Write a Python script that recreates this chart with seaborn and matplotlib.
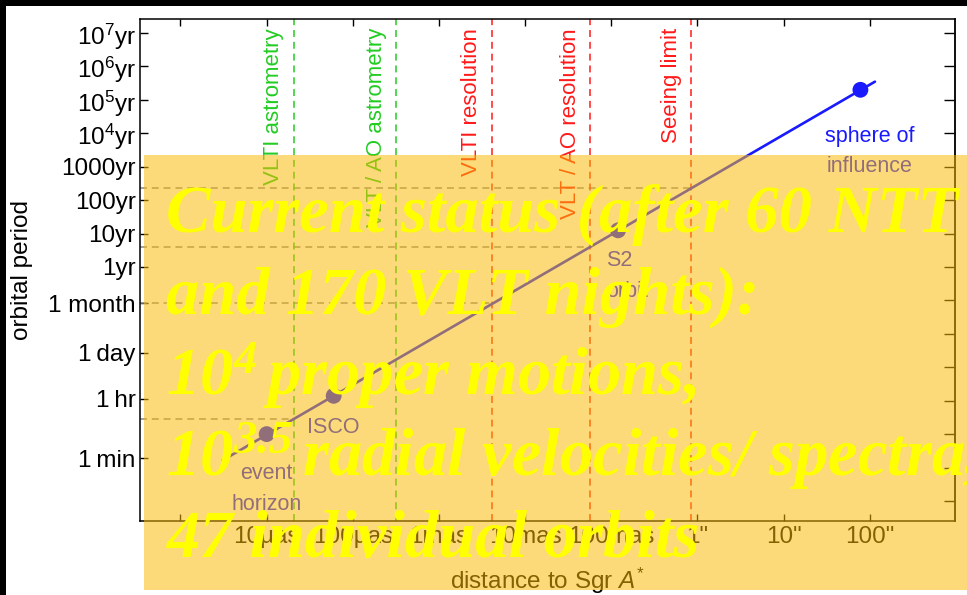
import matplotlib
matplotlib.use("Agg")
import matplotlib.pyplot as plt
from matplotlib.patches import Rectangle
from matplotlib.ticker import FixedLocator, NullLocator
import seaborn as sns

# Orbital period vs. distance from Sgr A* (distance in arcsec, period in years)
orbit_dist = [3.1e-6, 115.0]
orbit_period = [1.66e-6, 3.5e5]

# Marked radii on the orbit relation
marker_names = ["event\nhorizon", "ISCO", "S2\norbit", "sphere of\ninfluence"]
marker_dist = [1.0e-5, 6.0e-5, 0.12, 78.0]
marker_period = [1.0e-5, 1.4e-4, 12.5, 2.0e5]

# Instrumental limits (angular scale in arcsec)
limit_names = ["VLTI astrometry", "VLT / AO astrometry", "VLTI resolution",
               "VLT / AO resolution", "Seeing limit"]
limit_dist = [2.06e-5, 3.2e-4, 4.1e-3, 0.057, 0.85]
limit_kind = ["astrometry", "astrometry", "resolution", "resolution", "resolution"]

# Periods where the limits meet the orbit relation
guide_dist = [2.06e-5, 4.1e-3, 0.057, 0.85]
guide_period = [2.8e-5, 0.083, 4.0, 234.0]

x_ticks = [1e-6, 1e-5, 1e-4, 1e-3, 1e-2, 1e-1, 1.0, 10.0, 100.0]
x_labels = ["", "10µas", "100µas", "1mas", "10mas", "100mas", '1"', '10"', '100"']

y_ticks = [1e7, 1e6, 1e5, 1e4, 1e3, 100.0, 10.0, 1.0,
           1 / 12, 1 / 365.25, 1 / 8766.0, 1 / 525960.0]
y_labels = [r"$\mathregular{10^{7}}$yr", r"$\mathregular{10^{6}}$yr",
            r"$\mathregular{10^{5}}$yr", r"$\mathregular{10^{4}}$yr",
            "1000yr", "100yr", "10yr", "1yr", "1 month",
            "1\u2009day", "1\u2009hr", "1\u2009min"]
y_right_ticks = [10.0 ** k for k in range(-7, 8)]

status_lines = [
    "Current status (after 60 NTT",
    "and 170 VLT nights):",
    r"$\mathbf{10^{4}}\,$proper motions,",
    r"$\mathbf{10^{3.5}}\,$radial velocities/ spectra,",
    "47 individual orbits",
]

BLUE = "#1a1aff"
GREEN = "#22cc22"
RED = "#ff1a1a"
GUIDE = "#8a8a8a"
kind_color = {"astrometry": GREEN, "resolution": RED}

sns.set_theme(style="ticks")
plt.rcParams["font.family"] = ["Liberation Sans", "DejaVu Sans"]
plt.rcParams["mathtext.fontset"] = "custom"
plt.rcParams["mathtext.rm"] = "Liberation Sans"
plt.rcParams["mathtext.it"] = "Liberation Sans:italic"
plt.rcParams["mathtext.bf"] = "Liberation Serif:italic:bold"
plt.rcParams["lines.scale_dashes"] = False

W, H = 967, 595
fig = plt.figure(figsize=(W / 100, H / 100), dpi=100)
fig.patch.set_facecolor("white")
ax = fig.add_axes([140 / W, 1 - 520.7 / H, (955 - 140) / W, (520.7 - 19.3) / H])
ax.set_facecolor("white")
ax.set_xscale("log")
ax.set_yscale("log")
xlim = (10 ** -6.47, 10 ** 2.99)
ax.set_xlim(*xlim)
ax.set_ylim(10 ** -7.59, 10 ** 7.41)

dash = (0, (5, 3.5))

# horizontal guides from the left edge to each limit
for d, p in zip(guide_dist, guide_period):
    ax.plot([xlim[0], d], [p, p], color=GUIDE, lw=1.1, ls=dash, zorder=1)

# vertical instrument limits with their labels
for name, d, kind in zip(limit_names, limit_dist, limit_kind):
    c = kind_color[kind]
    ax.axvline(d, color=c, lw=1.1, ls=dash, zorder=1)
    ax.annotate(name, xy=(d, 1), xycoords=("data", "axes fraction"),
                xytext=(-14.5, -6.3), textcoords="offset points",
                rotation=90, ha="center", va="top", color=c, fontsize=16)

# orbit relation and marked radii
sns.lineplot(x=orbit_dist, y=orbit_period, ax=ax, color=BLUE, lw=1.9,
             zorder=3, legend=False)
sns.scatterplot(x=marker_dist, y=marker_period, ax=ax, color=BLUE, s=130,
                edgecolor="none", zorder=4, legend=False)

label_offsets = [(0, -39.5, "center"), (0, -22.5, "center"),
                 (-8.6, -33, "left"), (6.5, -44.5, "center")]
for name, d, p, (dx, dy, ha) in zip(marker_names, marker_dist, marker_period,
                                   label_offsets):
    ax.annotate(name, xy=(d, p), xytext=(dx, dy), textcoords="offset points",
                ha=ha, va="center", color=BLUE, fontsize=15.5, linespacing=1.6)

# axes, ticks and labels
ax.xaxis.set_major_locator(FixedLocator(x_ticks))
ax.xaxis.set_minor_locator(NullLocator())
ax.set_xticklabels(x_labels)
ax.yaxis.set_major_locator(FixedLocator(y_ticks))
ax.yaxis.set_minor_locator(NullLocator())
ax.set_yticklabels(y_labels)
ax.tick_params(axis="x", which="major", direction="in", length=5, width=1.0,
               top=True, bottom=True, labelsize=17.5, pad=4, color="black",
               labelcolor="black")
ax.tick_params(axis="y", which="major", direction="in", length=6, width=1.0,
               left=True, right=False, labelsize=17.5, pad=3, color="black",
               labelcolor="black")
for s in ax.spines.values():
    s.set_color("black")
    s.set_linewidth(1.1)

sec = ax.secondary_yaxis("right")
sec.yaxis.set_major_locator(FixedLocator(y_right_ticks))
sec.yaxis.set_minor_locator(NullLocator())
sec.set_yticklabels([""] * len(y_right_ticks))
sec.tick_params(direction="in", length=8, width=1.0, color="black")
sec.spines["right"].set_linewidth(1.1)

ax.set_xlabel(r"distance to Sgr $\mathit{A}^{*}$", fontsize=17.5, color="black")
ax.xaxis.set_label_coords(0.5, -0.090)
ax.xaxis.label.set_va("top")
ax.set_ylabel("orbital period", fontsize=17.5, color="black")
ax.yaxis.set_label_coords(-0.131, 0.5)

# page frame
fig.patches.append(Rectangle((0, 1 - 6 / H), 1, 6 / H, transform=fig.transFigure,
                             facecolor="black", edgecolor="none", zorder=20))
fig.patches.append(Rectangle((0, 0), 6 / W, 1, transform=fig.transFigure,
                             facecolor="black", edgecolor="none", zorder=20))

# translucent status panel
fig.patches.append(Rectangle((144 / W, 1 - 590 / H), (W - 144) / W, (590 - 155) / H,
                             transform=fig.transFigure, facecolor="#fbb904",
                             alpha=0.53, edgecolor="none", zorder=10))

for i, line in enumerate(status_lines):
    fig.text(166 / W, 1 - (232 + 81.2 * i) / H, line, color="#ffff00",
             fontsize=48, family="Liberation Serif", weight="bold",
             style="italic", va="baseline", ha="left", zorder=11)

fig.savefig("out.png", dpi=100, facecolor=fig.get_facecolor())
